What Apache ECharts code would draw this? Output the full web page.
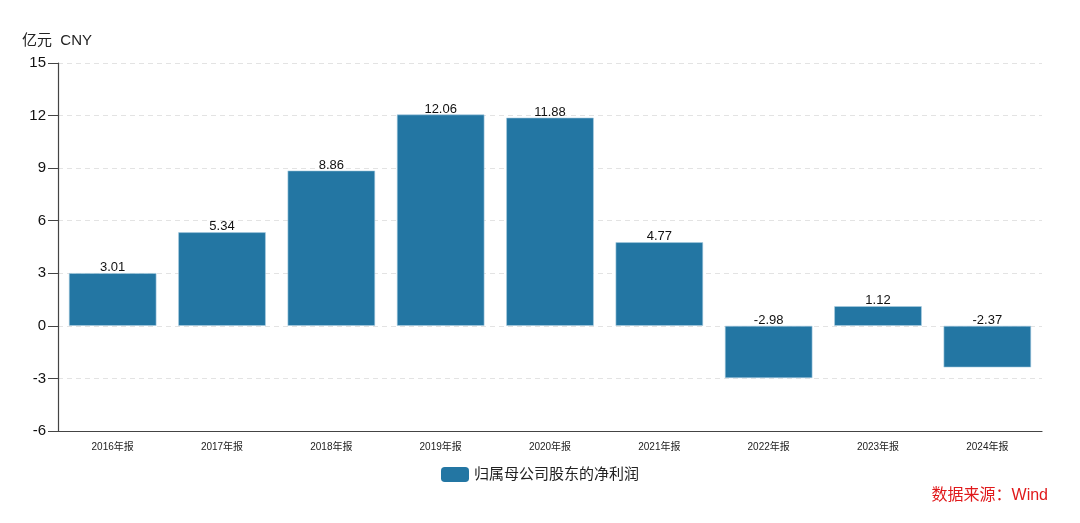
<!DOCTYPE html>
<html>
<head>
<meta charset="utf-8">
<script src="https://cdn.jsdelivr.net/npm/echarts@6/dist/echarts.min.js"></script>
<style>
  html, body { margin: 0; padding: 0; background: #fff; }
  #chart { width: 1080px; height: 523px; }
</style>
</head>
<body>
<div id="chart"></div>
<script>
// 数据
const years = ["2016年报", "2017年报", "2018年报", "2019年报", "2020年报",
  "2021年报", "2022年报", "2023年报", "2024年报"];
const netProfit = [3.01, 5.34, 8.86, 12.06, 11.88, 4.77, -2.98, 1.12, -2.37];
const seriesName = "归属母公司股东的净利润";

const chart = echarts.init(document.getElementById("chart"));
const FONT = "'Liberation Sans', 'Noto Sans CJK SC', sans-serif";

chart.setOption({
  animation: false,
  textStyle: { fontFamily: FONT },
  grid: { left: 58, right: 38, top: 63, bottom: 92 },
  graphic: [
    {
      type: "text", left: 22, top: 33,
      style: { text: "亿元  CNY", fontSize: 15, fill: "#222", fontFamily: FONT },
    },
    {
      type: "text", right: 32, top: 488,
      style: { text: "数据来源：Wind", fontSize: 16, fill: "#e0191b", fontFamily: FONT },
    },
  ],
  legend: {
    data: [seriesName],
    top: 462,
    left: "center",
    itemWidth: 28,
    itemHeight: 15,
    icon: "roundRect",
    itemStyle: { borderWidth: 0 },
    textStyle: { fontSize: 15, color: "#222" },
  },
  xAxis: {
    type: "category",
    data: years,
    axisLine: { onZero: false, lineStyle: { color: "#444", width: 1.2 } },
    axisTick: { alignWithLabel: true, length: 9, lineStyle: { color: "#444" } },
    axisLabel: { fontSize: 10, color: "#222", margin: 11 },
  },
  yAxis: {
    type: "value",
    min: -6,
    max: 15,
    interval: 3,
    axisLine: { show: true, lineStyle: { color: "#444", width: 1.2 } },
    axisTick: { show: true, length: 10, lineStyle: { color: "#444" } },
    axisLabel: { fontSize: 15, color: "#111", margin: 12 },
    splitLine: { lineStyle: { color: "#e3e3e3", type: [5, 4] } },
  },
  series: [{
    name: seriesName,
    type: "bar",
    data: netProfit,
    barWidth: "80%",
    itemStyle: { color: "#2376a3", borderColor: "#a9cde0", borderWidth: 0.6 },
    label: {
      show: true,
      position: "top",
      distance: -1,
      fontSize: 13,
      color: "#111",
      formatter: p => p.value.toFixed(2),
    },
  }],
});
</script>
</body>
</html>
